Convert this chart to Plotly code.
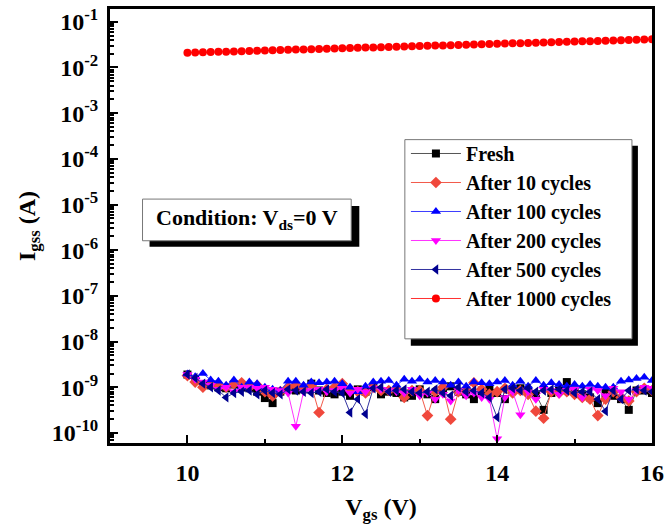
import plotly.graph_objects as go

# ---------------- data ----------------
vgs = [10.0, 10.1, 10.2, 10.3, 10.4, 10.5, 10.6, 10.7, 10.8, 10.9,
       11.0, 11.1, 11.2, 11.3, 11.4, 11.5, 11.6, 11.7, 11.8, 11.9,
       12.0, 12.1, 12.2, 12.3, 12.4, 12.5, 12.6, 12.7, 12.8, 12.9,
       13.0, 13.1, 13.2, 13.3, 13.4, 13.5, 13.6, 13.7, 13.8, 13.9,
       14.0, 14.1, 14.2, 14.3, 14.4, 14.5, 14.6, 14.7, 14.8, 14.9,
       15.0, 15.1, 15.2, 15.3, 15.4, 15.5, 15.6, 15.7, 15.8, 15.9, 16.0]

# values in nA (x1e-9 A)
fresh_nA = [1.9, 1.5, 1.15, 1.1, 1.0, 0.95, 1.15, 1.0, 0.95, 0.8,
            0.58, 0.45, 0.8, 0.9, 0.85, 0.9, 1.2, 0.85, 0.75, 0.7,
            0.8, 0.65, 0.9, 0.8, 1.0, 0.7, 0.8, 0.75, 0.6, 0.65,
            0.9, 0.7, 0.55, 0.85, 1.05, 0.8, 0.7, 0.55, 0.8, 0.9,
            0.75, 0.55, 0.9, 0.95, 0.85, 0.7, 0.32, 0.75, 0.85, 1.3,
            0.85, 0.7, 0.6, 0.45, 0.75, 0.65, 0.55, 0.32, 0.85, 0.85, 0.75]
c10_nA = [1.8, 1.3, 1.0, 1.15, 1.1, 1.0, 1.2, 1.25, 1.0, 1.1,
          0.8, 0.65, 0.8, 1.0, 1.1, 1.0, 1.1, 0.28, 0.9, 1.0,
          1.2, 0.9, 0.8, 0.75, 1.0, 0.85, 0.85, 0.9, 0.6, 0.85,
          0.85, 0.24, 0.8, 1.0, 0.2, 0.8, 0.9, 1.25, 0.9, 0.7,
          0.8, 0.95, 0.75, 0.85, 0.7, 0.3, 0.21, 0.8, 0.75, 0.8,
          0.7, 0.6, 0.55, 0.24, 0.55, 0.8, 0.6, 0.5, 0.8, 0.95, 0.85]
c100_nA = [1.95, 1.7, 2.0, 1.45, 1.35, 1.1, 1.45, 1.0, 1.3, 1.2,
           1.0, 0.9, 0.85, 1.35, 1.35, 1.1, 1.3, 1.25, 1.3, 1.35,
           1.2, 1.0, 0.8, 1.05, 1.3, 1.35, 1.4, 1.1, 1.5, 1.35,
           1.5, 1.3, 1.4, 1.3, 1.1, 1.3, 1.05, 1.3, 1.25, 1.2,
           1.3, 1.4, 1.1, 1.35, 1.05, 1.4, 1.1, 1.25, 1.15, 1.05,
           1.15, 1.05, 1.15, 1.05, 1.0, 1.0, 1.35, 1.45, 1.55, 1.65, 1.4]
c200_nA = [1.9, 1.5, 1.3, 1.1, 0.9, 1.0, 0.8, 1.0, 1.0, 0.95,
           1.0, 0.9, 0.85, 0.75, 0.14, 0.8, 0.85, 0.9, 0.8, 0.85,
           0.95, 0.75, 0.9, 0.8, 0.95, 0.9, 0.85, 0.8, 0.75, 0.9,
           0.65, 0.75, 0.55, 0.7, 0.5, 0.85, 0.65, 0.75, 0.6, 0.55,
           0.075, 0.6, 0.8, 0.25, 0.8, 0.55, 0.9, 0.85, 0.7, 0.85,
           0.9, 0.6, 0.9, 0.85, 0.65, 0.95, 0.8, 0.55, 0.85, 1.0, 0.95]
c500_nA = [1.9, 1.6, 1.2, 1.0, 0.85, 0.6, 0.75, 0.8, 0.85, 0.7,
           0.85, 0.75, 0.7, 0.9, 0.85, 0.8, 0.75, 0.8, 0.9, 0.8,
           0.75, 0.28, 0.55, 0.26, 0.95, 1.0, 0.8, 0.85, 0.9, 0.8,
           0.75, 0.8, 0.9, 0.75, 0.65, 1.0, 0.8, 0.85, 0.75, 0.6,
           0.22, 0.9, 0.95, 0.85, 0.95, 0.8, 0.85, 0.9, 0.9, 0.85,
           0.75, 0.8, 0.8, 0.55, 0.3, 0.85, 0.55, 0.85, 0.9, 0.85, 0.8]
# values in A
c1000_A = [0.0210, 0.0212, 0.0215, 0.0217, 0.0220, 0.0222, 0.0225, 0.0227, 0.0230, 0.0232,
           0.0235, 0.0238, 0.0240, 0.0243, 0.0246, 0.0249, 0.0251, 0.0254, 0.0257, 0.0260,
           0.0263, 0.0266, 0.0269, 0.0272, 0.0275, 0.0278, 0.0281, 0.0284, 0.0288, 0.0291,
           0.0294, 0.0298, 0.0301, 0.0304, 0.0308, 0.0311, 0.0315, 0.0318, 0.0322, 0.0326,
           0.0329, 0.0333, 0.0337, 0.0341, 0.0345, 0.0348, 0.0352, 0.0356, 0.0360, 0.0364,
           0.0369, 0.0373, 0.0377, 0.0381, 0.0386, 0.0390, 0.0394, 0.0399, 0.0403, 0.0408, 0.0413]

series_names = ["Fresh", "After 10 cycles", "After 100 cycles",
                "After 200 cycles", "After 500 cycles", "After 1000 cycles"]

x_tick_vals = [10, 12, 14, 16]
y_tick_vals = [1e-10, 1e-9, 1e-8, 1e-7, 1e-6, 1e-5, 1e-4, 1e-3, 1e-2, 1e-1]
y_tick_text = ["10<sup>-10</sup>", "10<sup>-9</sup>", "10<sup>-8</sup>", "10<sup>-7</sup>",
               "10<sup>-6</sup>", "10<sup>-5</sup>", "10<sup>-4</sup>", "10<sup>-3</sup>",
               "10<sup>-2</sup>", "10<sup>-1</sup>"]

# ---------------- figure ----------------
FONT = "Liberation Serif, Times New Roman, serif"

def nA(v):
    return [a * 1e-9 for a in v]

styles = [
    dict(y=nA(fresh_nA), line_color="#555555", mcolor="black", symbol="square", size=8),
    dict(y=nA(c10_nA), line_color="#f25a4a", mcolor="#f0483c", symbol="diamond", size=9),
    dict(y=nA(c100_nA), line_color="#3c3cff", mcolor="#0000ff", symbol="triangle-up", size=9),
    dict(y=nA(c200_nA), line_color="#ff33ff", mcolor="#ff00ff", symbol="triangle-down", size=9),
    dict(y=nA(c500_nA), line_color="#3333a0", mcolor="#000090", symbol="triangle-left", size=9),
    dict(y=c1000_A, line_color="#ff3030", mcolor="#ff0000", symbol="circle", size=8),
]

fig = go.Figure()
for name, st in zip(series_names, styles):
    fig.add_trace(go.Scatter(
        x=vgs, y=st["y"], name="<b>%s</b>" % name, mode="lines+markers",
        legendgroup=name,
        line=dict(color=st["line_color"], width=1),
        marker=dict(symbol=st["symbol"], size=st["size"], color=st["mcolor"],
                    line=dict(width=0)),
    ))

axis_common = dict(
    showline=True, linecolor="black", linewidth=3, mirror=True,
    showgrid=False, zeroline=False, ticks="inside", tickcolor="black",
    tickfont=dict(family=FONT, size=24, color="black"),
)

fig.update_xaxes(
    **axis_common, range=[9, 16], tickvals=x_tick_vals,
    ticktext=["<b>%d</b>" % v for v in x_tick_vals],
    ticklen=8, tickwidth=2, ticklabelstandoff=6,
    minor=dict(tickvals=[11, 13, 15], ticks="inside", ticklen=4, tickwidth=2, tickcolor="black"),
    title=dict(text="<b>V<sub>gs</sub> (V)</b>", font=dict(family=FONT, size=24, color="black"),
               standoff=14),
)

minor_y = [m * 10 ** e for e in range(-11, 0) for m in range(2, 10)]
fig.update_yaxes(
    **axis_common, type="log", range=[-10.22, -0.72],
    tickvals=y_tick_vals, ticktext=["<b>%s</b>" % t for t in y_tick_text],
    ticklen=8, tickwidth=2, ticklabelstandoff=4,
    minor=dict(tickvals=minor_y, ticks="inside", ticklen=4, tickwidth=1.5, tickcolor="black"),
    title=dict(text="<b>I<sub>gss</sub> (A)</b>", font=dict(family=FONT, size=24, color="black"),
               standoff=10),
)

shapes = [
    # legend box shadow + box
    dict(type="rect", xref="paper", yref="paper", x0=0.555, x1=0.974, y0=0.224, y1=0.685,
         fillcolor="black", line=dict(width=0), layer="above"),
    dict(type="rect", xref="paper", yref="paper", x0=0.544, x1=0.963, y0=0.240, y1=0.699,
         fillcolor="white", line=dict(color="#777777", width=1), layer="above"),
    # condition box shadow + box
    dict(type="rect", xref="paper", yref="paper", x0=0.073, x1=0.460, y0=0.452, y1=0.546,
         fillcolor="black", line=dict(width=0), layer="above"),
    dict(type="rect", xref="paper", yref="paper", x0=0.060, x1=0.445, y0=0.466, y1=0.562,
         fillcolor="white", line=dict(color="#777777", width=1), layer="above"),
]

fig.update_layout(
    width=669, height=532,
    margin=dict(l=110, r=13, t=5, b=89),
    paper_bgcolor="white", plot_bgcolor="white",
    font=dict(family=FONT, color="black"),
    shapes=shapes,
    annotations=[dict(
        text="<b>Condition: V<sub>ds</sub>=0 V</b>", xref="paper", yref="paper",
        x=0.2525, y=0.516, xanchor="center", yanchor="middle", showarrow=False,
        font=dict(family=FONT, size=22, color="black"),
    )],
    legend=dict(
        x=0.546, y=0.712, xanchor="left", yanchor="top",
        bgcolor="rgba(0,0,0,0)", borderwidth=0,
        font=dict(family=FONT, size=20, color="black"),
        itemwidth=50, tracegroupgap=0,
    ),
    showlegend=True,
)

fig.write_html("out.html")
